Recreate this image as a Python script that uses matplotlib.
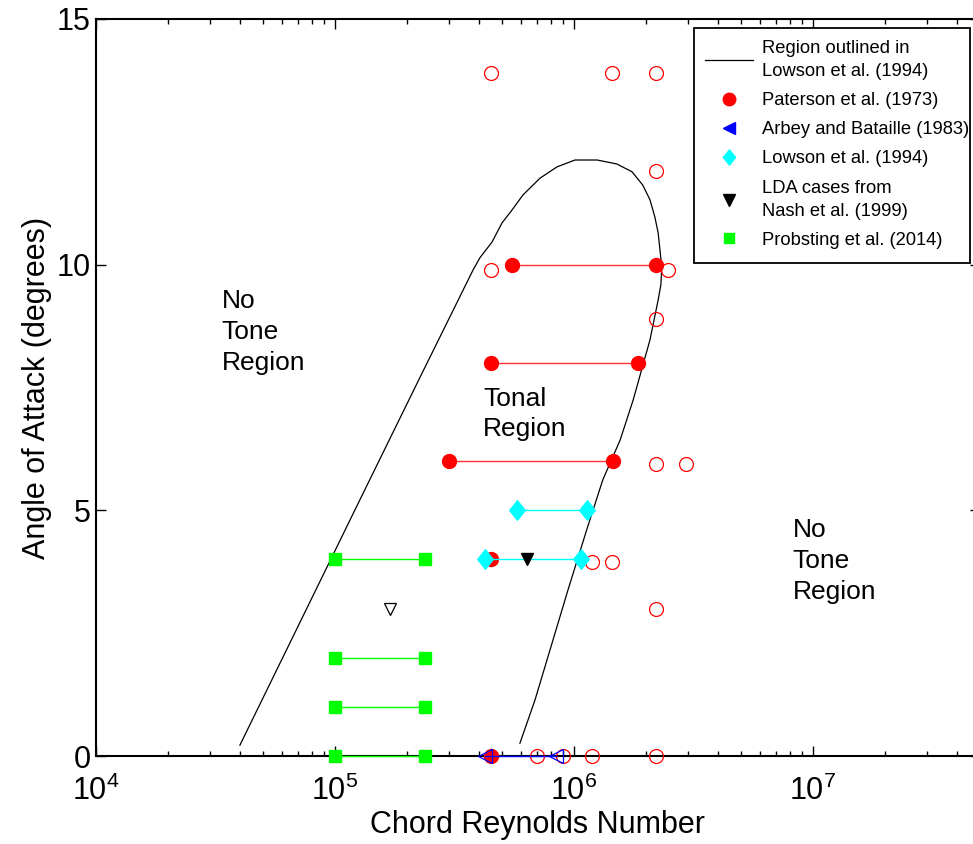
import numpy as np
import matplotlib.pyplot as plt
from matplotlib.lines import Line2D
from matplotlib.path import Path
from matplotlib.patches import Rectangle
from matplotlib.ticker import LogLocator, FixedLocator

plt.rcParams['font.family'] = ['Liberation Sans', 'DejaVu Sans']
plt.rcParams['mathtext.fontset'] = 'custom'
plt.rcParams['mathtext.rm'] = 'Liberation Sans'

# outline of the tonal region (Lowson et al. 1994)
region_re = [4.0e4, 4.95e4, 1.27e5, 2.27e5, 3.78e5, 4.04e5, 4.54e5, 5.0e5, 5.5e5,
             6.12e5, 7.21e5, 8.49e5, 1.01e6, 1.25e6, 1.51e6, 1.75e6, 1.94e6,
             2.08e6, 2.18e6, 2.25e6, 2.29e6, 2.33e6, 2.31e6, 2.25e6, 2.08e6,
             1.77e6, 1.56e6, 1.32e6, 1.13e6, 9.44e5, 6.87e5, 5.94e5]
region_aoa = [0.22, 1.14, 5.21, 7.71, 9.89, 10.14, 10.46, 10.85, 11.11,
              11.42, 11.76, 11.99, 12.13, 12.13, 12.05, 11.89, 11.62,
              11.32, 10.97, 10.65, 10.30, 9.95, 9.59, 9.28, 8.47,
              7.25, 6.43, 5.62, 4.60, 3.38, 1.14, 0.26]

# Paterson et al. (1973): tonal ranges and single tonal cases
paterson_aoa = [10, 8, 6]
paterson_re_lo = [5.5e5, 4.5e5, 3.0e5]
paterson_re_hi = [2.2e6, 1.85e6, 1.45e6]
paterson_pt_re = [4.5e5, 4.5e5]
paterson_pt_aoa = [4, 0]
# Paterson et al. (1973): no tone
notone_re = [4.5e5, 1.44e6, 2.2e6, 2.2e6, 4.5e5, 2.47e6, 2.2e6, 2.2e6, 2.94e6,
             1.19e6, 1.44e6, 2.2e6, 6.98e5, 9.02e5, 1.19e6, 2.2e6]
notone_aoa = [13.9, 13.9, 13.9, 11.9, 9.9, 9.9, 8.9, 5.95, 5.95,
              3.95, 3.95, 3.0, 0, 0, 0, 0]

# Arbey and Bataille (1983)
arbey_re = [4.24e5, 8.42e5]
arbey_aoa = [0, 0]

# Lowson et al. (1994)
lowson_aoa = [5, 4]
lowson_re_lo = [5.77e5, 4.25e5]
lowson_re_hi = [1.13e6, 1.07e6]

# Nash et al. (1999) LDA cases
nash_re = [6.35e5]
nash_aoa = [4]
nash_open_re = [1.7e5]
nash_open_aoa = [3]

# Probsting et al. (2014)
probst_aoa = [4, 2, 1, 0]
probst_re_lo = [1.0e5, 1.0e5, 1.0e5, 1.0e5]
probst_re_hi = [2.38e5, 2.38e5, 2.38e5, 2.38e5]

# matlab-like diamond, a bit taller than wide
diamond = Path([(0, 1), (0.8, 0), (0, -1), (-0.8, 0), (0, 1)],
               [Path.MOVETO, Path.LINETO, Path.LINETO, Path.LINETO, Path.CLOSEPOLY])

fig = plt.figure(figsize=(9.73, 8.44), dpi=100)
ax = fig.add_axes([96 / 973, 88 / 844, 884 / 973, 737 / 844])
ax.set_xscale('log')

ax.plot(region_re, region_aoa, color='black', lw=0.9)

for lo, hi, a in zip(paterson_re_lo, paterson_re_hi, paterson_aoa):
    ax.plot([lo, hi], [a, a], color='#ff3030', lw=1.0, marker='o', ms=10,
            mfc='red', mec='red', clip_on=False)
ax.plot(paterson_pt_re, paterson_pt_aoa, ls='none', marker='o', ms=10,
        mfc='red', mec='red', clip_on=False, zorder=3)
ax.plot(notone_re, notone_aoa, ls='none', marker='o', ms=10, mfc='none',
        mec='red', mew=0.9, clip_on=False, zorder=3)

for lo, hi, a in zip(probst_re_lo, probst_re_hi, probst_aoa):
    ax.plot([lo, hi], [a, a], color='#00ff00', lw=1.0, marker='s', ms=9,
            mfc='#00ff00', mec='#00ff00', clip_on=False, zorder=3)

for lo, hi, a in zip(lowson_re_lo, lowson_re_hi, lowson_aoa):
    ax.plot([lo, hi], [a, a], color='cyan', lw=1.0, marker=diamond, ms=14,
            mfc='cyan', mec='cyan', clip_on=False, zorder=4)

ax.plot(arbey_re, arbey_aoa, color='blue', lw=1.0, marker='<', ms=10,
        mfc='none', mec='blue', mew=0.9, clip_on=False, zorder=4)

ax.plot(nash_re, nash_aoa, ls='none', marker='v', ms=8, mfc='black',
        mec='black', zorder=5)
ax.plot(nash_open_re, nash_open_aoa, ls='none', marker='v', ms=8,
        mfc='none', mec='black', mew=0.9, zorder=5)

txt = dict(fontsize=19, va='center', ha='left', linespacing=1.36)
ax.text(3.36e4, 8.63, 'No\nTone\nRegion', **txt)
ax.text(4.16e5, 6.96, 'Tonal\nRegion', **txt)
ax.text(8.24e6, 3.97, 'No\nTone\nRegion', **txt)

ax.set_xlim(1e4, 5e7)
ax.set_ylim(0, 15)
ax.xaxis.set_major_locator(LogLocator(base=10, numticks=10))
ax.xaxis.set_minor_locator(LogLocator(base=10, subs=np.arange(2, 10), numticks=20))
ax.yaxis.set_major_locator(FixedLocator([0, 5, 10, 15]))
ax.tick_params(which='both', direction='in', top=True, right=True,
               labelsize=22, width=1.0)
ax.tick_params(which='major', length=7)
ax.tick_params(which='minor', length=3.5)
ax.tick_params(axis='x', pad=14)
ax.tick_params(axis='y', pad=4)
for s in ax.spines.values():
    s.set_linewidth(1.5)

ax.set_xlabel('Chord Reynolds Number', fontsize=22, labelpad=2)
ax.set_ylabel('Angle of Attack (degrees)', fontsize=22, labelpad=3)

handles = [
    Line2D([], [], color='black', lw=0.9),
    Line2D([], [], ls='none', marker='o', ms=9, mfc='red', mec='red'),
    Line2D([], [], ls='none', marker='<', ms=9, mfc='blue', mec='blue'),
    Line2D([], [], ls='none', marker=diamond, ms=11, mfc='cyan', mec='cyan'),
    Line2D([], [], ls='none', marker='v', ms=8, mfc='black', mec='black'),
    Line2D([], [], ls='none', marker='s', ms=7, mfc='#00ff00', mec='#00ff00'),
]
labels = ['Region outlined in\nLowson et al. (1994)', 'Paterson et al. (1973)',
          'Arbey and Bataille (1983)', 'Lowson et al. (1994)',
          'LDA cases from\nNash et al. (1999)', 'Probsting et al. (2014)']

# legend frame drawn separately so the box keeps its fixed size
fig.patches.append(Rectangle((694 / 973, 1 - 263 / 844), 276 / 973, 235 / 844,
                             transform=fig.transFigure, facecolor='white',
                             edgecolor='black', lw=1.3, zorder=5))
leg = fig.legend(handles, labels, loc='upper left',
                 bbox_to_anchor=(705 / 973, 1 - 40 / 844), fontsize=13.2,
                 frameon=False, handlelength=2.6, handletextpad=0.5,
                 labelspacing=0.66, borderpad=0, borderaxespad=0)
leg.set_zorder(6)
for t in leg.get_texts():
    t.set_linespacing(1.47)

fig.savefig('out.png', dpi=100)
